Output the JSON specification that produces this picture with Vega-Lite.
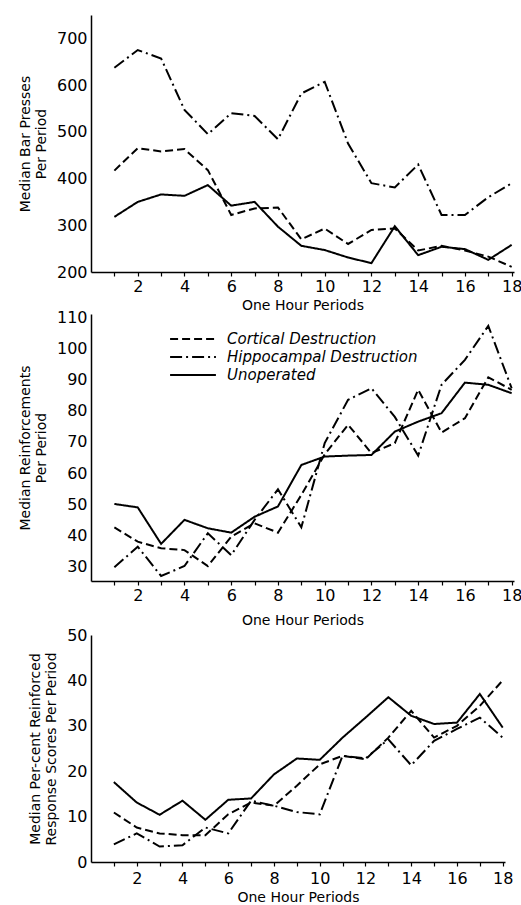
{
  "$schema": "https://vega.github.io/schema/vega-lite/v6.json",
  "padding": {"left": 18, "top": 15, "right": 0, "bottom": 0},
  "config": {
    "view": {"stroke": null},
    "font": "DejaVu Sans",
    "axis": {
      "grid": false, "domainColor": "black", "domainWidth": 1.5, "tickColor": "black",
      "tickWidth": 1.2, "labelColor": "black", "labelFontSize": 16, "labelFont": "DejaVu Sans",
      "titleColor": "black", "titleFontWeight": "normal", "titleFontSize": 14, "titleFont": "DejaVu Sans"
    },
    "line": {"color": "black", "strokeWidth": 2}
  },
  "datasets": {
    "bar": [
      {"p":1,"g":"Cortical Destruction","v":417},{"p":2,"g":"Cortical Destruction","v":465},{"p":3,"g":"Cortical Destruction","v":458},{"p":4,"g":"Cortical Destruction","v":463},{"p":5,"g":"Cortical Destruction","v":418},{"p":6,"g":"Cortical Destruction","v":322},{"p":7,"g":"Cortical Destruction","v":336},{"p":8,"g":"Cortical Destruction","v":338},{"p":9,"g":"Cortical Destruction","v":270},{"p":10,"g":"Cortical Destruction","v":293},{"p":11,"g":"Cortical Destruction","v":260},{"p":12,"g":"Cortical Destruction","v":290},{"p":13,"g":"Cortical Destruction","v":293},{"p":14,"g":"Cortical Destruction","v":246},{"p":15,"g":"Cortical Destruction","v":256},{"p":16,"g":"Cortical Destruction","v":246},{"p":17,"g":"Cortical Destruction","v":233},{"p":18,"g":"Cortical Destruction","v":211},
      {"p":1,"g":"Hippocampal Destruction","v":637},{"p":2,"g":"Hippocampal Destruction","v":675},{"p":3,"g":"Hippocampal Destruction","v":657},{"p":4,"g":"Hippocampal Destruction","v":547},{"p":5,"g":"Hippocampal Destruction","v":495},{"p":6,"g":"Hippocampal Destruction","v":540},{"p":7,"g":"Hippocampal Destruction","v":534},{"p":8,"g":"Hippocampal Destruction","v":484},{"p":9,"g":"Hippocampal Destruction","v":582},{"p":10,"g":"Hippocampal Destruction","v":607},{"p":11,"g":"Hippocampal Destruction","v":475},{"p":12,"g":"Hippocampal Destruction","v":390},{"p":13,"g":"Hippocampal Destruction","v":381},{"p":14,"g":"Hippocampal Destruction","v":430},{"p":15,"g":"Hippocampal Destruction","v":322},{"p":16,"g":"Hippocampal Destruction","v":322},{"p":17,"g":"Hippocampal Destruction","v":360},{"p":18,"g":"Hippocampal Destruction","v":390},
      {"p":1,"g":"Unoperated","v":318},{"p":2,"g":"Unoperated","v":350},{"p":3,"g":"Unoperated","v":366},{"p":4,"g":"Unoperated","v":363},{"p":5,"g":"Unoperated","v":386},{"p":6,"g":"Unoperated","v":342},{"p":7,"g":"Unoperated","v":350},{"p":8,"g":"Unoperated","v":297},{"p":9,"g":"Unoperated","v":256},{"p":10,"g":"Unoperated","v":247},{"p":11,"g":"Unoperated","v":231},{"p":12,"g":"Unoperated","v":219},{"p":13,"g":"Unoperated","v":298},{"p":14,"g":"Unoperated","v":236},{"p":15,"g":"Unoperated","v":254},{"p":16,"g":"Unoperated","v":249},{"p":17,"g":"Unoperated","v":226},{"p":18,"g":"Unoperated","v":258}
    ],
    "reinf": [
      {"p":1,"g":"Cortical Destruction","v":42.6},{"p":2,"g":"Cortical Destruction","v":38},{"p":3,"g":"Cortical Destruction","v":35.9},{"p":4,"g":"Cortical Destruction","v":35.3},{"p":5,"g":"Cortical Destruction","v":30.2},{"p":6,"g":"Cortical Destruction","v":39.6},{"p":7,"g":"Cortical Destruction","v":43.9},{"p":8,"g":"Cortical Destruction","v":40.9},{"p":9,"g":"Cortical Destruction","v":53},{"p":10,"g":"Cortical Destruction","v":66},{"p":11,"g":"Cortical Destruction","v":75.5},{"p":12,"g":"Cortical Destruction","v":66.4},{"p":13,"g":"Cortical Destruction","v":69.6},{"p":14,"g":"Cortical Destruction","v":86.7},{"p":15,"g":"Cortical Destruction","v":73},{"p":16,"g":"Cortical Destruction","v":77.6},{"p":17,"g":"Cortical Destruction","v":90.7},{"p":18,"g":"Cortical Destruction","v":86.7},
      {"p":1,"g":"Hippocampal Destruction","v":29.8},{"p":2,"g":"Hippocampal Destruction","v":36.4},{"p":3,"g":"Hippocampal Destruction","v":27},{"p":4,"g":"Hippocampal Destruction","v":30.2},{"p":5,"g":"Hippocampal Destruction","v":40.7},{"p":6,"g":"Hippocampal Destruction","v":33.7},{"p":7,"g":"Hippocampal Destruction","v":45},{"p":8,"g":"Hippocampal Destruction","v":54.8},{"p":9,"g":"Hippocampal Destruction","v":42.6},{"p":10,"g":"Hippocampal Destruction","v":69.6},{"p":11,"g":"Hippocampal Destruction","v":83.5},{"p":12,"g":"Hippocampal Destruction","v":87.2},{"p":13,"g":"Hippocampal Destruction","v":78},{"p":14,"g":"Hippocampal Destruction","v":65.6},{"p":15,"g":"Hippocampal Destruction","v":88.3},{"p":16,"g":"Hippocampal Destruction","v":96.3},{"p":17,"g":"Hippocampal Destruction","v":107.2},{"p":18,"g":"Hippocampal Destruction","v":87.2},
      {"p":1,"g":"Unoperated","v":50.1},{"p":2,"g":"Unoperated","v":49},{"p":3,"g":"Unoperated","v":37.3},{"p":4,"g":"Unoperated","v":45},{"p":5,"g":"Unoperated","v":42.3},{"p":6,"g":"Unoperated","v":40.9},{"p":7,"g":"Unoperated","v":46},{"p":8,"g":"Unoperated","v":49.3},{"p":9,"g":"Unoperated","v":62.6},{"p":10,"g":"Unoperated","v":65.3},{"p":11,"g":"Unoperated","v":65.6},{"p":12,"g":"Unoperated","v":65.8},{"p":13,"g":"Unoperated","v":73.3},{"p":14,"g":"Unoperated","v":76.5},{"p":15,"g":"Unoperated","v":79.2},{"p":16,"g":"Unoperated","v":89},{"p":17,"g":"Unoperated","v":88.3},{"p":18,"g":"Unoperated","v":85.6}
    ],
    "pct": [
      {"p":1,"g":"Cortical Destruction","v":10.9},{"p":2,"g":"Cortical Destruction","v":7.6},{"p":3,"g":"Cortical Destruction","v":6.3},{"p":4,"g":"Cortical Destruction","v":5.9},{"p":5,"g":"Cortical Destruction","v":5.9},{"p":6,"g":"Cortical Destruction","v":10.5},{"p":7,"g":"Cortical Destruction","v":13.1},{"p":8,"g":"Cortical Destruction","v":12.4},{"p":9,"g":"Cortical Destruction","v":16.8},{"p":10,"g":"Cortical Destruction","v":21.5},{"p":11,"g":"Cortical Destruction","v":23.4},{"p":12,"g":"Cortical Destruction","v":22.6},{"p":13,"g":"Cortical Destruction","v":27.4},{"p":14,"g":"Cortical Destruction","v":33.3},{"p":15,"g":"Cortical Destruction","v":27.4},{"p":16,"g":"Cortical Destruction","v":30},{"p":17,"g":"Cortical Destruction","v":34.4},{"p":18,"g":"Cortical Destruction","v":40},
      {"p":1,"g":"Hippocampal Destruction","v":3.9},{"p":2,"g":"Hippocampal Destruction","v":6.3},{"p":3,"g":"Hippocampal Destruction","v":3.4},{"p":4,"g":"Hippocampal Destruction","v":3.7},{"p":5,"g":"Hippocampal Destruction","v":7.6},{"p":6,"g":"Hippocampal Destruction","v":6.3},{"p":7,"g":"Hippocampal Destruction","v":13.5},{"p":8,"g":"Hippocampal Destruction","v":12.4},{"p":9,"g":"Hippocampal Destruction","v":11},{"p":10,"g":"Hippocampal Destruction","v":10.5},{"p":11,"g":"Hippocampal Destruction","v":23.4},{"p":12,"g":"Hippocampal Destruction","v":22.8},{"p":13,"g":"Hippocampal Destruction","v":27},{"p":14,"g":"Hippocampal Destruction","v":21.3},{"p":15,"g":"Hippocampal Destruction","v":26.7},{"p":16,"g":"Hippocampal Destruction","v":29.3},{"p":17,"g":"Hippocampal Destruction","v":31.8},{"p":18,"g":"Hippocampal Destruction","v":27.4},
      {"p":1,"g":"Unoperated","v":17.6},{"p":2,"g":"Unoperated","v":13.1},{"p":3,"g":"Unoperated","v":10.4},{"p":4,"g":"Unoperated","v":13.5},{"p":5,"g":"Unoperated","v":9.3},{"p":6,"g":"Unoperated","v":13.7},{"p":7,"g":"Unoperated","v":14},{"p":8,"g":"Unoperated","v":19.3},{"p":9,"g":"Unoperated","v":22.8},{"p":10,"g":"Unoperated","v":22.5},{"p":11,"g":"Unoperated","v":27.4},{"p":12,"g":"Unoperated","v":31.8},{"p":13,"g":"Unoperated","v":36.3},{"p":14,"g":"Unoperated","v":32.2},{"p":15,"g":"Unoperated","v":30.4},{"p":16,"g":"Unoperated","v":30.7},{"p":17,"g":"Unoperated","v":37},{"p":18,"g":"Unoperated","v":29.6}
    ]
  },
  "bounds": "flush",
  "spacing": 42,
  "resolve": {"scale": {"strokeDash": "independent", "x": "independent", "y": "independent"}, "legend": {"strokeDash": "independent"}},
  "vconcat": [
    {
      "data": {"name": "bar"},
      "width": 423, "height": 257,
      "mark": {"type": "line", "color": "black", "strokeWidth": 2},
      "encoding": {
        "x": {"field": "p", "type": "quantitative", "scale": {"domain": [0, 18.1], "nice": false},
          "axis": {"title": "One Hour Periods", "values": [1,2,3,4,5,6,7,8,9,10,11,12,13,14,15,16,17,18], "labelExpr": "datum.value % 2 == 0 ? datum.label : ''", "tickSize": 4, "labelPadding": 2, "titlePadding": 4}},
        "y": {"field": "v", "type": "quantitative", "scale": {"domain": [200, 750], "nice": false},
          "axis": {"title": ["Median Bar Presses", "Per Period"], "values": [200,300,400,500,600,700], "tickSize": 0, "labelPadding": 4, "titlePadding": 8}},
        "strokeDash": {"field": "g", "type": "nominal", "scale": {"domain": ["Cortical Destruction", "Hippocampal Destruction", "Unoperated"], "range": [[8,4],[12,4,2,4],[1,0]]}, "legend": null}
      }
    },
    {
      "bounds": "flush",
      "spacing": 54,
      "resolve": {"scale": {"strokeDash": "independent", "x": "independent", "y": "independent"}, "legend": {"strokeDash": "independent"}},
      "vconcat": [
        {
          "data": {"name": "reinf"},
          "width": 423, "height": 267,
          "mark": {"type": "line", "color": "black", "strokeWidth": 2},
          "encoding": {
            "x": {"field": "p", "type": "quantitative", "scale": {"domain": [0, 18.1], "nice": false},
              "axis": {"title": "One Hour Periods", "values": [1,2,3,4,5,6,7,8,9,10,11,12,13,14,15,16,17,18], "labelExpr": "datum.value % 2 == 0 ? datum.label : ''", "tickSize": 4, "labelPadding": 2, "titlePadding": 10}},
            "y": {"field": "v", "type": "quantitative", "scale": {"domain": [25.4, 111], "nice": false},
              "axis": {"title": ["Median Reinforcements", "Per Period"], "values": [30,40,50,60,70,80,90,100,110], "tickSize": 0, "labelPadding": 4, "titlePadding": 8}},
            "strokeDash": {"field": "g", "type": "nominal", "scale": {"domain": ["Cortical Destruction", "Hippocampal Destruction", "Unoperated"], "range": [[8,4],[12,4,2,4],[1,0]]},
              "legend": {"orient": "none", "legendX": 78, "legendY": 16, "title": null, "symbolType": "stroke", "symbolSize": 2100, "symbolStrokeWidth": 2, "symbolStrokeColor": "black", "clipHeight": 18, "labelFontStyle": "italic", "labelFontSize": 15, "labelColor": "black", "labelOffset": 10, "labelLimit": 400, "rowPadding": 0, "labelFont": "DejaVu Sans"}}
          }
        },
        {
          "data": {"name": "pct"},
          "width": 414, "height": 227,
          "mark": {"type": "line", "color": "black", "strokeWidth": 2},
          "encoding": {
            "x": {"field": "p", "type": "quantitative", "scale": {"domain": [0, 18.1], "nice": false},
              "axis": {"title": "One Hour Periods", "values": [1,2,3,4,5,6,7,8,9,10,11,12,13,14,15,16,17,18], "labelExpr": "datum.value % 2 == 0 ? datum.label : ''", "tickSize": 4, "labelPadding": 4, "titlePadding": 4}},
            "y": {"field": "v", "type": "quantitative", "scale": {"domain": [0, 50], "nice": false},
              "axis": {"title": ["Median Per-cent Reinforced", "Response Scores Per Period"], "values": [0,10,20,30,40,50], "tickSize": 0, "labelPadding": 4, "titlePadding": 8}},
            "strokeDash": {"field": "g", "type": "nominal", "scale": {"domain": ["Cortical Destruction", "Hippocampal Destruction", "Unoperated"], "range": [[8,4],[12,4,2,4],[1,0]]}, "legend": null}
          }
        }
      ]
    }
  ]
}
